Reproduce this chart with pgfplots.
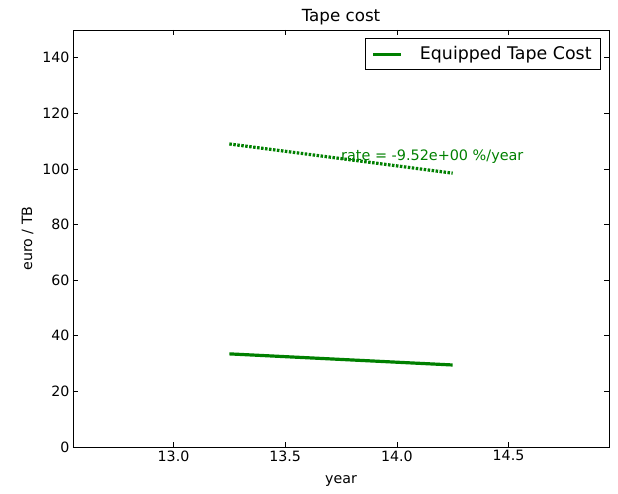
\documentclass[border=0pt]{standalone}
\usepackage{pgfplots}
\pgfplotsset{compat=1.18}
\usepackage{fontspec}
\setmainfont{DejaVu Sans}
\definecolor{mplgreen}{rgb}{0,0.5,0}
\begin{document}
\begin{tikzpicture}[x=1bp,y=1bp]
\path[use as bounding box] (-73bp,-47bp) rectangle (545bp,447bp);
\begin{axis}[
  at={(0,0)}, anchor=south west,
  scale only axis,
  width=536bp, height=417bp,
  xmin=12.55, xmax=14.95,
  ymin=0, ymax=150,
  xtick={13.0,13.5,14.0,14.5},
  ytick={0,20,40,60,80,100,120,140},
  xticklabel style={/pgf/number format/.cd,fixed,fixed zerofill,precision=1},
  /pgf/number format/assume math mode=true,
  tick align=inside,
  major tick length=5.5bp,
  tick style={black, line width=0.6bp},
  axis line style={black, line width=0.8bp},
  ticklabel style={font=\fontsize{14.2bp}{16bp}\selectfont},
  title={Tape cost},
  title style={font=\fontsize{16.7bp}{19bp}\selectfont, yshift=-4bp},
  xlabel={year},
  ylabel={euro / TB},
  label style={font=\fontsize{14.2bp}{16bp}\selectfont},
  xlabel style={yshift=-7bp},
  ylabel style={yshift=2bp},
  legend style={at={(0.985,0.98)}, anchor=north east, draw=black, line width=0.8bp,
    font=\fontsize{17.4bp}{20bp}\selectfont, inner xsep=7bp, inner ysep=6bp},
  legend cell align=left,
  legend image code/.code={\draw[#1, line width=3bp] (0bp,0bp) -- (28bp,0bp);},
]
\addplot[mplgreen, line width=3.2bp] coordinates {(13.25,33.5) (14.25,29.5)};
\addlegendentry{\hspace{15bp}Equipped Tape Cost}
\addplot[mplgreen, line width=3.2bp, dash pattern=on 2.5bp off 1.5bp, forget plot] coordinates {(13.25,109) (14.25,98.5)};
\node[anchor=base west, text=mplgreen, font=\fontsize{14.4bp}{16bp}\selectfont, inner sep=0pt] at (axis cs:13.75,103) {rate = -9.52e+00 \%/year};
\end{axis}
\end{tikzpicture}
\end{document}
